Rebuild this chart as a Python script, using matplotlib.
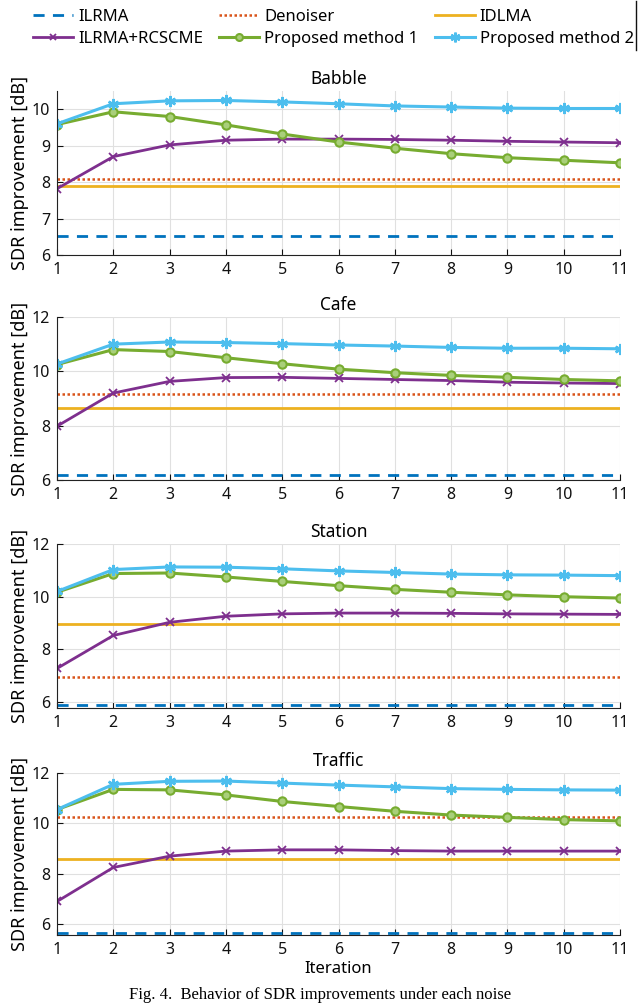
import matplotlib
matplotlib.use("Agg")
import matplotlib.pyplot as plt
from matplotlib.lines import Line2D

plt.rcParams['font.family'] = ['Noto Sans', 'DejaVu Sans']

iterations = list(range(1, 12))
noises = ["Babble", "Cafe", "Station", "Traffic"]

ilrma = [6.52, 6.20, 5.88, 5.63]
denoiser = [8.08, 9.15, 6.97, 10.27]
idlma = [7.90, 8.65, 8.97, 8.60]

rcscme_babble = [7.82, 8.70, 9.02, 9.15, 9.18, 9.18, 9.17, 9.15, 9.12, 9.10, 9.08]
pm1_babble = [9.58, 9.93, 9.80, 9.57, 9.32, 9.10, 8.93, 8.78, 8.67, 8.60, 8.53]
pm2_babble = [9.60, 10.15, 10.23, 10.24, 10.20, 10.15, 10.09, 10.06, 10.03, 10.02, 10.02]

rcscme_cafe = [7.98, 9.20, 9.63, 9.77, 9.78, 9.74, 9.70, 9.66, 9.60, 9.57, 9.55]
pm1_cafe = [10.25, 10.80, 10.73, 10.50, 10.28, 10.08, 9.95, 9.85, 9.78, 9.70, 9.65]
pm2_cafe = [10.27, 11.00, 11.08, 11.06, 11.02, 10.97, 10.93, 10.88, 10.85, 10.85, 10.83]

rcscme_station = [7.28, 8.53, 9.03, 9.26, 9.35, 9.38, 9.38, 9.37, 9.35, 9.34, 9.33]
pm1_station = [10.17, 10.88, 10.90, 10.75, 10.58, 10.42, 10.28, 10.17, 10.07, 10.00, 9.95]
pm2_station = [10.20, 11.03, 11.13, 11.12, 11.06, 10.98, 10.92, 10.86, 10.83, 10.82, 10.80]

rcscme_traffic = [6.90, 8.25, 8.70, 8.90, 8.95, 8.95, 8.92, 8.90, 8.90, 8.90, 8.90]
pm1_traffic = [10.55, 11.35, 11.33, 11.13, 10.87, 10.67, 10.48, 10.33, 10.24, 10.15, 10.10]
pm2_traffic = [10.55, 11.55, 11.67, 11.68, 11.60, 11.52, 11.45, 11.38, 11.35, 11.33, 11.32]

rcscme = [rcscme_babble, rcscme_cafe, rcscme_station, rcscme_traffic]
pm1 = [pm1_babble, pm1_cafe, pm1_station, pm1_traffic]
pm2 = [pm2_babble, pm2_cafe, pm2_station, pm2_traffic]

ylims = [(6, 10.5), (6, 12), (5.78, 12), (5.57, 12)]
yticks = [[6, 7, 8, 9, 10], [6, 8, 10, 12], [6, 8, 10, 12], [6, 8, 10, 12]]

C_ILRMA = "#0072BD"
C_DEN = "#D95319"
C_IDL = "#EDB120"
C_RCS = "#7E2F8E"
C_PM1 = "#77AC30"
C_PM2 = "#4DBEEE"

W, H = 640, 1005
fig = plt.figure(figsize=(W / 100, H / 100), dpi=100)

# axes pixel positions (top, bottom)
boxes = [(91, 255), (317, 480), (544, 708), (773, 935)]
left_px, right_px = 57, 620

ast = (6, 2, 0)
for i, name in enumerate(noises):
    top, bot = boxes[i]
    ax = fig.add_axes([left_px / W, 1 - bot / H, (right_px - left_px) / W, (bot - top) / H])
    ax.axhline(ilrma[i], color=C_ILRMA, ls=(0, (4, 3)), lw=2)
    ax.axhline(denoiser[i], color=C_DEN, ls=(0, (1, 1)), lw=1.8)
    ax.axhline(idlma[i], color=C_IDL, ls='-', lw=2)
    ax.plot(iterations, rcscme[i], color=C_RCS, lw=2, marker='x', ms=6, mew=1.3)
    ax.plot(iterations, pm1[i], color=C_PM1, lw=2.2, marker='o', ms=6, mfc="#a9cf7a", mec=C_PM1, mew=1.5)
    ax.plot(iterations, pm2[i], color=C_PM2, lw=2.2, marker=ast, ms=8, mew=1.8)
    ax.set_xlim(1, 11)
    ax.set_ylim(*ylims[i])
    ax.set_xticks(iterations)
    ax.set_yticks(yticks[i])
    ax.grid(True, color="#e0e0e0", lw=0.8)
    ax.set_axisbelow(True)
    for s in ['top', 'right']:
        ax.spines[s].set_visible(False)
    for s in ['left', 'bottom']:
        ax.spines[s].set_color("#222222")
        ax.spines[s].set_linewidth(0.8)
    ax.tick_params(direction='in', length=4, labelsize=11.5, colors="#111111", pad=5)
    ax.set_title(name, fontsize=12.5, pad=5)
    ax.set_ylabel("SDR improvement [dB]", fontsize=13, labelpad=2)
    if i == 3:
        ax.set_xlabel("Iteration", fontsize=12, labelpad=2)

handles = [
    Line2D([], [], color=C_ILRMA, ls=(0, (4, 3)), lw=2),
    Line2D([], [], color=C_RCS, lw=2, marker='x', ms=5, mew=1.3),
    Line2D([], [], color=C_DEN, ls=(0, (1, 1)), lw=1.8),
    Line2D([], [], color=C_PM1, lw=2.2, marker='o', ms=5, mfc="#a9cf7a", mec=C_PM1, mew=1.5),
    Line2D([], [], color=C_IDL, lw=2),
    Line2D([], [], color=C_PM2, lw=2.2, marker=ast, ms=7, mew=1.8),
]
labels = ["ILRMA", "ILRMA+RCSCME", "Denoiser", "Proposed method 1", "IDLMA", "Proposed method 2"]
leg = fig.legend(handles, labels, ncol=3, loc='upper left',
                 bbox_to_anchor=(33 / W, 1 - 10 / H, 601 / W, 0.001), mode='expand',
                 fontsize=12, frameon=False,
                 handlelength=2.4, handletextpad=0.3, columnspacing=0.6,
                 labelspacing=0.35, borderpad=0.0, borderaxespad=0.0)

fig.add_artist(Line2D([636 / W, 636 / W], [1 - 1 / H, 1 - 50 / H], color="#111111", lw=1,
                      transform=fig.transFigure))

fig.text(0.5, 1 - 995 / H, "Fig. 4.  Behavior of SDR improvements under each noise",
         ha='center', va='center', fontsize=12, family=['Liberation Serif', 'DejaVu Serif'])

fig.savefig("out.png", dpi=100)
